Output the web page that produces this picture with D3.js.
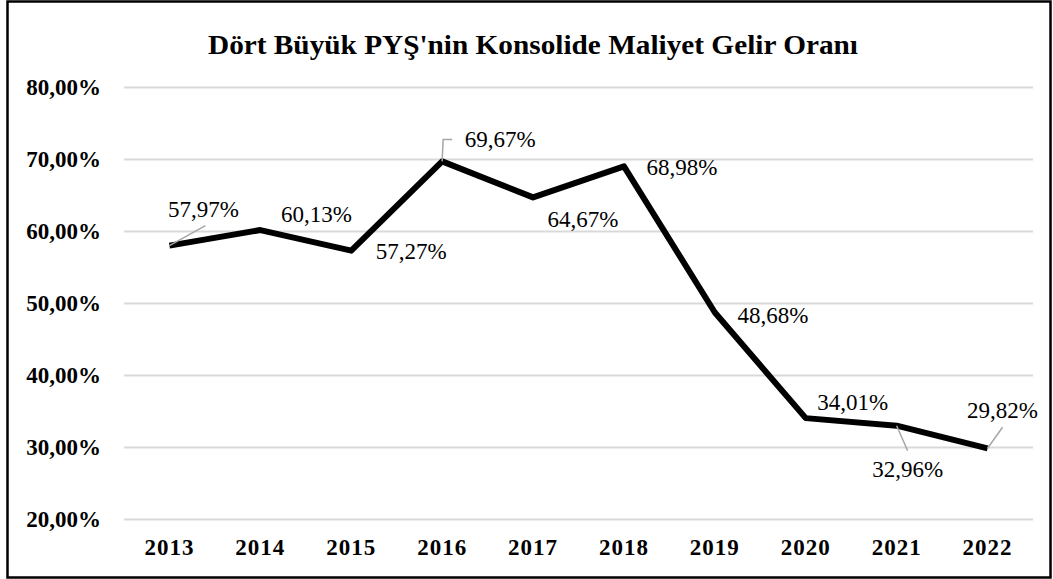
<!DOCTYPE html>
<html>
<head>
<meta charset="utf-8">
<script src="https://cdn.jsdelivr.net/npm/d3@7"></script>
<style>
  body { margin: 0; background: #fff; }
</style>
</head>
<body>
<script>
const years  = ["2013", "2014", "2015", "2016", "2017", "2018", "2019", "2020", "2021", "2022"];
const ratios = [57.97, 60.13, 57.27, 69.67, 64.67, 68.98, 48.68, 34.01, 32.96, 29.82];
const yTicks = [20, 30, 40, 50, 60, 70, 80];

// label placement relative to the point (dx, dy to baseline), leader line yes/no
const labelPos = [
  { dx: 34, dy: -29, leader: [[0, 0], [36, -20]] },
  { dx: 56, dy: -8 },
  { dx: 60, dy: 8 },
  { dx: 58, dy: -14, leader: [[0, 0], [1, -22], [10, -22]] },
  { dx: 50, dy: 30 },
  { dx: 58, dy: 9 },
  { dx: 58, dy: 10 },
  { dx: 47, dy: -8 },
  { dx: 11, dy: 51, leader: [[0, 0], [11, 25]] },
  { dx: 15, dy: -30, leader: [[0, 0], [15, -21]] }
];

const width = 1053;
const height = 579;
const serif = "'Liberation Serif', 'Times New Roman', serif";
const fmt = v => v.toFixed(2).replace(".", ",") + "%";

const svg = d3.select("body")
  .append("svg")
  .attr("width", width)
  .attr("height", height)
  .attr("font-family", serif);

// chart frame
svg.append("rect")
  .attr("x", 7.5).attr("y", 1.5)
  .attr("width", 1043).attr("height", 576)
  .attr("fill", "#fff")
  .attr("stroke", "#000")
  .attr("stroke-width", 2.5);

const x = d3.scaleBand().domain(years).range([124, 1033]);
const y = d3.scaleLinear().domain([20, 80]).range([519, 87]);

svg.append("text")
  .attr("x", 533).attr("y", 54)
  .attr("text-anchor", "middle")
  .attr("font-size", 27)
  .attr("font-weight", "bold")
  .attr("textLength", 650)
  .attr("lengthAdjust", "spacingAndGlyphs")
  .text("Dört Büyük PYŞ'nin Konsolide Maliyet Gelir Oranı");

// gridlines + y labels
const yAxis = svg.append("g")
  .attr("transform", "translate(124,0)")
  .call(d3.axisLeft(y).tickValues(yTicks).tickSize(-909).tickPadding(23)
    .tickFormat(d => d.toFixed(2).replace(".", ",") + "%"));
yAxis.attr("font-family", serif);
yAxis.select(".domain").remove();
yAxis.selectAll(".tick line").attr("stroke", "#d9d9d9").attr("stroke-width", 2);
yAxis.selectAll(".tick text")
  .attr("font-size", 23)
  .attr("font-weight", "bold")
  .attr("fill", "#000");

// x labels
const xAxis = svg.append("g")
  .attr("transform", "translate(0,519)")
  .call(d3.axisBottom(x).tickSize(0).tickPadding(20));
xAxis.attr("font-family", serif);
xAxis.select(".domain").remove();
xAxis.selectAll(".tick text")
  .attr("font-size", 23)
  .attr("font-weight", "bold")
  .attr("letter-spacing", 1)
  .attr("fill", "#000");

const cx = d => x(d) + x.bandwidth() / 2;

const line = d3.line()
  .x((d, i) => cx(years[i]))
  .y(d => y(d));

svg.append("path")
  .datum(ratios)
  .attr("d", line)
  .attr("fill", "none")
  .attr("stroke", "#000")
  .attr("stroke-width", 6)
  .attr("stroke-linejoin", "round");

// leader lines
svg.selectAll("polyline.leader")
  .data(ratios.map((v, i) => ({ v, i })).filter(d => labelPos[d.i].leader))
  .enter()
  .append("polyline")
  .attr("class", "leader")
  .attr("points", d => labelPos[d.i].leader
    .map(p => [cx(years[d.i]) + p[0], y(d.v) + p[1]].join(",")).join(" "))
  .attr("fill", "none")
  .attr("stroke", "#a6a6a6")
  .attr("stroke-width", 1.5);

svg.selectAll("text.val")
  .data(ratios)
  .enter()
  .append("text")
  .attr("class", "val")
  .attr("x", (d, i) => cx(years[i]) + labelPos[i].dx)
  .attr("y", (d, i) => y(d) + labelPos[i].dy)
  .attr("text-anchor", "middle")
  .attr("font-family", serif)
  .attr("font-size", 23)
  .attr("fill", "#000")
  .text(d => fmt(d));
</script>
</body>
</html>
